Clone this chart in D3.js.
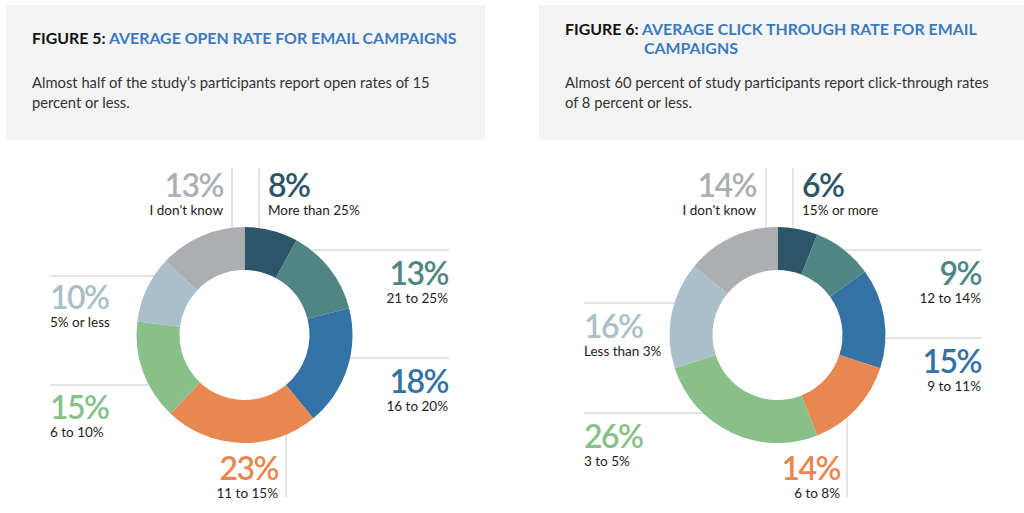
<!DOCTYPE html>
<html>
<head>
<meta charset="utf-8">
<script src="https://cdn.jsdelivr.net/npm/d3@7"></script>
<style>
  body { margin: 0; background: #fff; }
  svg { display: block; font-family: Lato, "Open Sans", sans-serif; }
</style>
</head>
<body>
<div id="chart"></div>
<script>
// figure 5 - open rate
var openCategories = ["More than 25%", "21 to 25%", "16 to 20%", "11 to 15%", "6 to 10%", "5% or less", "I don't know"];
var openValues = [8, 13, 18, 23, 15, 10, 13];

// figure 6 - click through rate
var clickCategories = ["15% or more", "12 to 14%", "9 to 11%", "6 to 8%", "3 to 5%", "Less than 3%", "I don't know"];
var clickValues = [6, 9, 15, 14, 26, 16, 14];

var sliceColors = ["#2c5569", "#4f8684", "#3471a4", "#e8874f", "#89c08a", "#aabfca", "#acaeb1"];

var width = 1024, height = 513;
var outerR = 108, innerR = 65;

var svg = d3.select("#chart").append("svg")
    .attr("width", width)
    .attr("height", height);

// header boxes
function drawHeader(x, w, fig, titleLines, textLines, titleX, textX, titleY) {
    svg.append("rect")
        .attr("x", x).attr("y", 5)
        .attr("width", w).attr("height", 135)
        .attr("fill", "#f4f4f4");

    var t = svg.append("text")
        .attr("font-size", 15.9)
        .attr("font-weight", 700);
    t.append("tspan")
        .attr("x", textX).attr("y", titleY)
        .attr("fill", "#111")
        .text(fig + " ");
    titleLines.forEach(function(line, i) {
        var sp = t.append("tspan")
            .attr("fill", "#3b7bbd")
            .text(line);
        if (i > 0) sp.attr("x", titleX).attr("y", titleY + 19);
    });

    svg.selectAll(null)
        .data(textLines)
        .enter().append("text")
        .attr("x", textX)
        .attr("y", function(d, i) { return 88 + i * 20; })
        .attr("font-size", 14.75)
        .attr("fill", "#333")
        .text(function(d) { return d; });
}

drawHeader(6, 479, "FIGURE 5:", ["AVERAGE OPEN RATE FOR EMAIL CAMPAIGNS"],
    ["Almost half of the study\u2019s participants report open rates of 15", "percent or less."], 0, 32, 44);
drawHeader(539, 485, "FIGURE 6:", ["AVERAGE CLICK THROUGH RATE FOR EMAIL", "CAMPAIGNS"],
    ["Almost 60 percent of study participants report click-through rates", "of 8 percent or less."], 644, 565, 35);

// label layout relative to donut centre:
// dir: "v" vertical leader (pos = x offset, end = y end), "h" horizontal (pos = y offset, end = x end)
var openLayout = [
    { dir: "v", pos: 14.5, end: -167, lx: 23.5, ly: -138, anchor: "start" },
    { dir: "h", pos: -85, end: 204.5, lx: 203.5, ly: -50, anchor: "end" },
    { dir: "h", pos: 23, end: 204.5, lx: 203.5, ly: 58, anchor: "end" },
    { dir: "v", pos: 41.5, end: 162, lx: 33.5, ly: 145, anchor: "end" },
    { dir: "h", pos: 50, end: -194.5, lx: -194.5, ly: 84, anchor: "start" },
    { dir: "h", pos: -59, end: -194.5, lx: -194.5, ly: -26, anchor: "start" },
    { dir: "v", pos: -12.5, end: -167, lx: -21.5, ly: -138, anchor: "end" }
];
var clickLayout = [
    { dir: "v", pos: 15.5, end: -167, lx: 24.5, ly: -138, anchor: "start" },
    { dir: "h", pos: -85, end: 204.5, lx: 203.5, ly: -50, anchor: "end" },
    { dir: "h", pos: 3, end: 204.5, lx: 203.5, ly: 38, anchor: "end" },
    { dir: "v", pos: 69.5, end: 162, lx: 62.5, ly: 145, anchor: "end" },
    { dir: "h", pos: 78, end: -193.5, lx: -193.5, ly: 113, anchor: "start" },
    { dir: "h", pos: -32, end: -193.5, lx: -193.5, ly: 3, anchor: "start" },
    { dir: "v", pos: -11.5, end: -167, lx: -21.5, ly: -138, anchor: "end" }
];

function drawDonut(cx, cy, values, categories, layout) {
    var g = svg.append("g")
        .attr("transform", "translate(" + cx + "," + cy + ")");

    var pie = d3.pie().sort(null).value(function(d) { return d; });
    var arc = d3.arc().innerRadius(innerR).outerRadius(outerR);

    g.selectAll("path.slice")
        .data(pie(values))
        .enter().append("path")
        .attr("class", "slice")
        .attr("d", arc)
        .attr("fill", function(d, i) { return sliceColors[i]; });

    // leader lines from the ring edge
    g.selectAll("line.leader")
        .data(layout)
        .enter().append("line")
        .attr("class", "leader")
        .attr("stroke", "#c8c8c8")
        .attr("stroke-width", 1)
        .attr("x1", function(d) {
            if (d.dir == "v") return d.pos;
            return Math.sign(d.end) * Math.sqrt(outerR * outerR - d.pos * d.pos);
        })
        .attr("x2", function(d) { return d.dir == "v" ? d.pos : d.end; })
        .attr("y1", function(d) {
            if (d.dir == "h") return d.pos;
            return Math.sign(d.end) * Math.sqrt(outerR * outerR - d.pos * d.pos);
        })
        .attr("y2", function(d) { return d.dir == "h" ? d.pos : d.end; });

    var labels = g.selectAll("g.label")
        .data(layout)
        .enter().append("g")
        .attr("class", "label");

    labels.append("text")
        .attr("x", function(d) { return d.lx; })
        .attr("y", function(d) { return d.ly; })
        .attr("text-anchor", function(d) { return d.anchor; })
        .attr("font-size", 32)
        .attr("font-weight", 600)
        .attr("letter-spacing", -1.5)
        .attr("fill", function(d, i) { return sliceColors[i]; })
        .text(function(d, i) { return values[i] + "%"; });

    labels.append("text")
        .attr("x", function(d) { return d.lx; })
        .attr("y", function(d) { return d.ly + 18; })
        .attr("text-anchor", function(d) { return d.anchor; })
        .attr("font-size", 13.5)
        .attr("fill", "#222")
        .text(function(d, i) { return categories[i]; });
}

drawDonut(244.5, 335, openValues, openCategories, openLayout);
drawDonut(777.5, 335, clickValues, clickCategories, clickLayout);
</script>
</body>
</html>
